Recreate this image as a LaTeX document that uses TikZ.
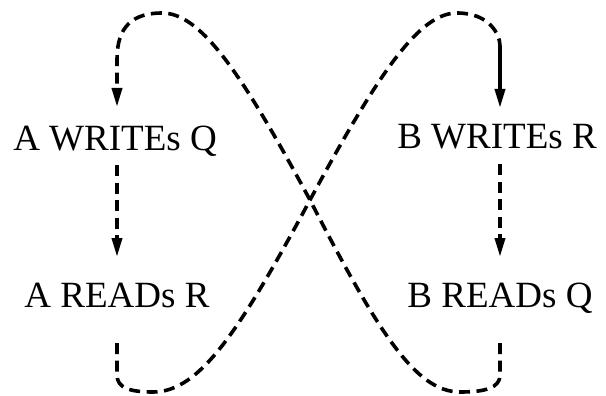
\documentclass[tikz,border=0pt]{standalone}
\usepackage{fontspec}
\setmainfont{Liberation Serif}
\usetikzlibrary{arrows.meta}
\begin{document}
\begin{tikzpicture}[x=1pt,y=-1pt,
  lbl/.style={font=\fontsize{37}{40}\selectfont, inner sep=0pt, anchor=base},
  flow/.style={line width=3.6pt, dash pattern=on 11pt off 6.5pt},
  solidflow/.style={line width=3.6pt},
  tip/.style={-{Triangle[length=19pt,width=10pt]}}]
\useasboundingbox (0,0) rectangle (606,396);
\node[lbl] (AWQ) at (115,150) {A WRITEs Q};
\node[lbl] (BWR) at (497,149) {B WRITEs R};
\node[lbl] (ARR) at (117,307) {A READs R};
\node[lbl] (BRQ) at (500,307) {B READs Q};
% vertical arrows
\draw[flow,tip] ([yshift=-15pt]AWQ.base -| 117,0) -- ([yshift=50pt]ARR.base -| 117,0);
\draw[flow,tip] ([yshift=-15pt]BWR.base -| 500,0) -- ([yshift=50pt]BRQ.base -| 500,0);
% B READs Q -> A WRITEs Q
\draw[flow,tip] ([yshift=-36pt]BRQ.base -| 500,0) -- (500,375)
  .. controls (500,388) and (485,392) .. (460,392)
  .. controls (415,392) and (377,330) .. (310,200)
  .. controls (240,70) and (200,13) .. (162,13)
  .. controls (125,13) and (117,35) .. (117,60)
  -- ([yshift=43pt]AWQ.base -| 117,0);
% A READs R -> B WRITEs R
\draw[flow] ([yshift=-36pt]ARR.base -| 117,0) -- (117,375)
  .. controls (117,388) and (130,392) .. (153,392)
  .. controls (200,392) and (240,330) .. (310,200)
  .. controls (380,70) and (420,13) .. (457,13)
  .. controls (490,13) and (500,35) .. (500,46) coordinate (rtop);
\draw[solidflow,tip] (rtop) -- ([yshift=41pt]BWR.base -| 500,0);
\end{tikzpicture}
\end{document}
